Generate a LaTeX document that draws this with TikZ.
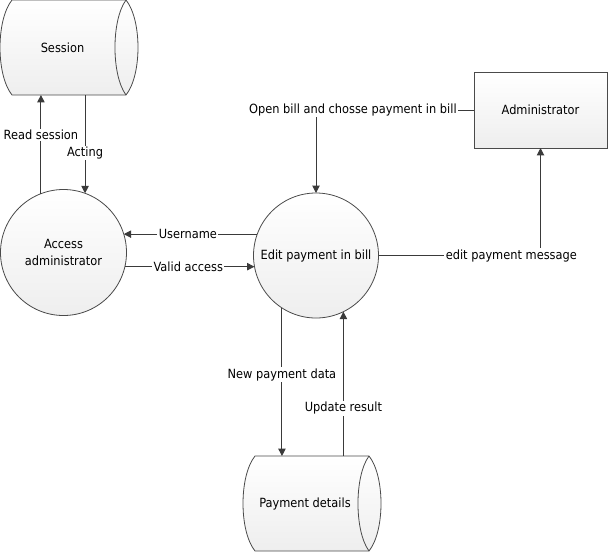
\documentclass[tikz,border=0pt]{standalone}
\usepackage{fontspec}
\setmainfont{DejaVu Sans Condensed}
\usetikzlibrary{arrows.meta,backgrounds}

\definecolor{edge}{HTML}{4A4A4A}
\definecolor{wire}{HTML}{3A3A3A}
\definecolor{shadebottom}{HTML}{EEEEEE}

\tikzset{
  x=0.75pt, y=-0.75pt,
  every node/.style={font={\fontsize{9.5}{12.75}\selectfont}, text=black},
  storebox/.style={rectangle, minimum width={114*0.75pt}, minimum height={95*0.75pt}, inner sep=0pt, outer sep=0pt},
  storeline/.style={draw=edge, line width=0.6pt, top color=white, bottom color=shadebottom},
  proc/.style={circle, draw=edge, line width=0.6pt, top color=white, bottom color=shadebottom, align=center, inner sep=0pt, outer sep=0pt},
  entity/.style={rectangle, draw=edge, line width=0.6pt, top color=white, bottom color=shadebottom, minimum width={133*0.75pt}, minimum height={76*0.75pt}, inner sep=0pt, outer sep=0pt},
  flow/.style={draw=wire, line width=0.75pt, -{Triangle[length=5.5pt, width=5.5pt]}},
  lbl/.style={fill=white, inner sep=1pt},
}

\begin{document}
\begin{tikzpicture}
\useasboundingbox (0,0) rectangle (609,554);

% data stores
\node[storebox, label={[xshift={-6.5*0.75pt}]center:Session}] (session) at (69,47.5) {};
\node[storebox, label={[xshift={-7*0.75pt}]center:Payment details}] (pd) at (312,503.5) {};

\begin{scope}[on background layer]
  \foreach \s in {session, pd} {
    \path[storeline] (\s.north west) .. controls +(-16,20) and +(-16,-20) .. (\s.south west)
      -- (\s.south east) .. controls +(16,-20) and +(16,20) .. (\s.north east) -- cycle;
    \draw[edge, line width=0.6pt] (\s.north east) .. controls +(-14.7,20) and +(-14.7,-20) .. (\s.south east);
  }
\end{scope}

% processes
\node[proc, minimum size={126*0.75pt}] (access) at (63.5,252.5) {Access\\administrator};
\node[proc, minimum size={125*0.75pt}] (edit) at (316,255.5) {Edit payment in bill};

% external entity
\node[entity] (admin) at (540.5,110) {Administrator};

% flows between session and access
\draw[flow] (access.111) -- (access.111 |- session.south)
  node[lbl, pos=0.595] {Read session};
\draw[flow] (access.70 |- session.south) -- (access.70)
  node[lbl, pos=0.59] {Acting};

% flows between the processes
\draw[flow] (edit.160) -- (edit.160 -| access.17)
  node[lbl, pos=0.52] {Username};
\draw[flow] (access.-13) -- (access.-13 -| edit.190)
  node[lbl, pos=0.49] {Valid access};

% administrator flows
\draw[flow] (admin.west) -| (edit.north)
  node[lbl, pos=0.383] {Open bill and chosse payment in bill};
\draw[flow] (edit.east) -| (admin.south)
  node[lbl, pos=0.41] {edit payment message};

% payment details flows
\draw[flow] (edit.237) -- (edit.237 |- pd.north)
  node[lbl, pos=0.45] {New payment data};
\draw[flow] (pd.north -| edit.-64) -- (edit.-64)
  node[lbl, pos=0.33] {Update result};
\end{tikzpicture}
\end{document}
